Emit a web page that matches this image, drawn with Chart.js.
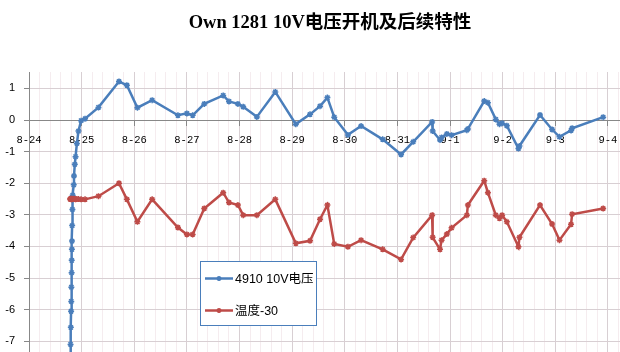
<!DOCTYPE html>
<html>
<head>
<meta charset="utf-8">
<script src="https://cdn.jsdelivr.net/npm/chart.js@4/dist/chart.umd.min.js"></script>
<style>
  html, body { margin: 0; padding: 0; background: #fff; overflow: hidden; }
  #wrap { width: 620px; height: 352px; }
</style>
</head>
<body>
<div id="wrap"><canvas id="voltChart" width="620" height="352"></canvas></div>
<script>
// Days after 8-24 (0 = 8-24, 1 = 8-25 ...)
const times = [0.78, 0.79, 0.795, 0.80, 0.803, 0.805, 0.81, 0.812, 0.815, 0.817,
    0.82, 0.825, 0.83, 0.85, 0.855, 0.87, 0.885, 0.91, 0.94, 0.99,
    1.065, 1.32, 1.71, 1.86, 2.06, 2.34, 2.83, 3.0, 3.11, 3.33,
    3.69, 3.80, 3.97, 4.07, 4.33, 4.68, 5.07, 5.34, 5.53, 5.67,
    5.80, 6.06, 6.31, 6.72, 7.07, 7.30, 7.66, 7.67, 7.81, 7.84,
    7.94, 8.03, 8.32, 8.34, 8.65, 8.72, 8.87, 8.94, 8.99, 9.08,
    9.30, 9.32, 9.71, 9.94, 10.08, 10.30, 10.32, 10.91];

const voltage = [-7.6, -7.1, -6.56, -6.05, -5.74, -5.29, -4.83, -4.44, -4.09, -3.83,
    -3.34, -2.83, -2.38, -2.05, -1.77, -1.40, -1.16, -0.74, -0.35, -0.02,
    0.04, 0.40, 1.22, 1.10, 0.39, 0.63, 0.15, 0.21, 0.15, 0.51,
    0.78, 0.59, 0.51, 0.42, 0.10, 0.89, -0.13, 0.18, 0.44, 0.71,
    0.09, -0.47, -0.19, -0.61, -1.09, -0.69, -0.06, -0.35, -0.63, -0.55,
    -0.44, -0.48, -0.32, -0.28, 0.60, 0.55, 0.02, -0.13, -0.10, -0.18,
    -0.90, -0.82, 0.16, -0.30, -0.53, -0.33, -0.26, 0.09];

const temperature = [-2.5, -2.5, -2.49, -2.5, -2.51, -2.5, -2.5, -2.49, -2.5, -2.5,
    -2.51, -2.5, -2.5, -2.49, -2.5, -2.5, -2.51, -2.5, -2.5, -2.51,
    -2.51, -2.41, -2.0, -2.51, -3.22, -2.51, -3.40, -3.62, -3.62, -2.80,
    -2.30, -2.61, -2.69, -3.01, -3.01, -2.51, -3.90, -3.82, -3.14, -2.69,
    -3.92, -4.01, -3.80, -4.09, -4.41, -3.72, -3.01, -3.71, -4.09, -3.80,
    -3.61, -3.41, -3.01, -2.69, -1.92, -2.30, -3.01, -3.11, -3.01, -3.22,
    -4.01, -3.71, -2.69, -3.29, -3.80, -3.30, -2.98, -2.80];

const dateLabels = ['8-24', '8-25', '8-26', '8-27', '8-28', '8-29', '8-30', '8-31', '9-1', '9-2', '9-3', '9-4'];
const yTicks = [-7, -6, -5, -4, -3, -2, -1, 0, 1];

const seriesNames = ['4910 10V电压', '温度-30'];
const chartTitle = 'Own 1281 10V电压开机及后续特性';

const isMajor = v => Math.abs(v - Math.round(v)) < 1e-6;

// Title, centred over the plot rather than the canvas
const plotTitle = {
    id: 'plotTitle',
    afterDraw(chart) {
        const ctx = chart.ctx;
        ctx.save();
        ctx.font = "bold 18.5px 'Liberation Serif', 'Noto Sans CJK SC', serif";
        ctx.fillStyle = '#000';
        ctx.textAlign = 'center';
        ctx.textBaseline = 'middle';
        ctx.fillText(chartTitle, 330, 23);
        ctx.restore();
    }
};

// Legend box drawn inside the plot
const boxLegend = {
    id: 'boxLegend',
    afterDraw(chart) {
        const ctx = chart.ctx;
        const x = 200.5, y = 261.5, w = 116, h = 64;
        ctx.save();
        ctx.fillStyle = '#fff';
        ctx.fillRect(x, y, w, h);
        ctx.strokeStyle = '#4a7ebb';
        ctx.lineWidth = 1;
        ctx.strokeRect(x, y, w, h);
        ctx.font = "12.5px 'Liberation Sans', 'Noto Sans CJK SC', sans-serif";
        ctx.textBaseline = 'middle';
        chart.data.datasets.forEach((ds, i) => {
            const ly = 278.5 + i * 32;
            ctx.strokeStyle = ds.borderColor;
            ctx.lineWidth = 2.5;
            ctx.beginPath();
            ctx.moveTo(205, ly);
            ctx.lineTo(233, ly);
            ctx.stroke();
            ctx.lineWidth = 1.5;
            Chart.helpers.drawPoint(ctx, { pointStyle: 'star', radius: 2.5, borderWidth: 1.5 }, 219, ly);
            ctx.fillStyle = '#000';
            ctx.fillText(ds.label, 235, ly + 1);
        });
        ctx.restore();
    }
};

const noPad = scale => {
    scale.paddingLeft = 0;
    scale.paddingRight = 0;
    scale.paddingTop = 0;
    scale.paddingBottom = 0;
};

const ctx = document.getElementById('voltChart').getContext('2d');
new Chart(ctx, {
    type: 'line',
    data: {
        datasets: [
            {
                label: seriesNames[0],
                data: times.map((t, i) => ({ x: t, y: voltage[i] })),
                borderColor: '#4a7ebb',
                backgroundColor: '#4a7ebb',
                borderWidth: 2.5,
                pointStyle: 'star',
                pointRadius: 3,
                pointBorderWidth: 1.5,
                tension: 0,
                order: 1
            },
            {
                label: seriesNames[1],
                data: times.map((t, i) => ({ x: t, y: temperature[i] })),
                borderColor: '#be4b48',
                backgroundColor: '#be4b48',
                borderWidth: 2.5,
                pointStyle: 'star',
                pointRadius: 3,
                pointBorderWidth: 1.5,
                tension: 0,
                order: 0
            }
        ]
    },
    options: {
        responsive: false,
        animation: false,
        layout: { autoPadding: false, padding: { left: 0, right: 0, top: 72, bottom: 0 } },
        plugins: {
            legend: { display: false },
            tooltip: { enabled: false },
            title: { display: false }
        },
        scales: {
            x: {
                type: 'linear',
                position: { y: 0 },
                min: 0,
                max: 11.23,
                afterBuildTicks: scale => {
                    const t = [];
                    for (let i = 0; i <= 56; i++) t.push({ value: Math.round(i * 20) / 100 });
                    scale.ticks = t;
                },
                afterFit: scale => { scale.height = 0; noPad(scale); },
                border: { color: '#888', width: 1 },
                grid: {
                    color: c => (c.tick && isMajor(c.tick.value)) ? '#d8cfd3' : '#f5ecef',
                    tickColor: c => (c.tick && isMajor(c.tick.value)) ? '#888' : 'rgba(0,0,0,0)',
                    tickLength: 5
                },
                ticks: {
                    autoSkip: false,
                    maxRotation: 0,
                    padding: 9,
                    color: '#000',
                    font: { family: "'Liberation Mono', monospace", size: 10.5 },
                    callback: v => isMajor(v) ? dateLabels[Math.round(v)] : ''
                }
            },
            y: {
                min: -7.34,
                max: 1.52,
                afterBuildTicks: scale => { scale.ticks = yTicks.map(v => ({ value: v })); },
                afterFit: scale => { scale.width = 29; noPad(scale); },
                border: { color: '#888', width: 1 },
                grid: { color: '#d8cfd3', tickColor: '#888', tickLength: 5 },
                ticks: {
                    padding: 9,
                    color: '#000',
                    font: { family: "'Liberation Sans', sans-serif", size: 11 }
                }
            }
        }
    },
    plugins: [plotTitle, boxLegend]
});
</script>
</body>
</html>
